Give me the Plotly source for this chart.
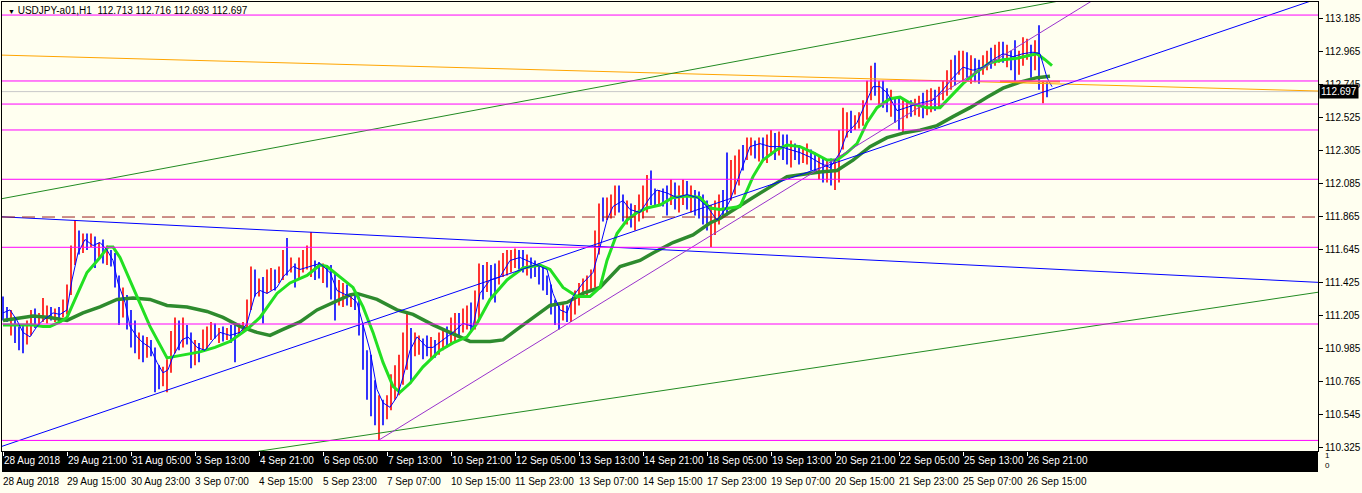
import plotly.graph_objects as go

# ---------------- data ----------------
# 2-hour price bars, hour index from 28 Aug 2018 13:00 (broker time)
bar_high = [
    111.33, 111.26, 111.24, 111.19, 111.13, 111.14, 111.17, 111.24, 111.25, 111.22,
    111.32, 111.27, 111.26, 111.25, 111.26, 111.31, 111.41, 111.67, 111.84, 111.77,
    111.75, 111.75, 111.75, 111.73, 111.69, 111.71, 111.67, 111.64, 111.62, 111.47,
    111.39, 111.34, 111.24, 111.17, 111.09, 111.07, 111.06, 111.04, 110.99, 110.87,
    110.86, 110.91, 111.10, 111.19, 111.17, 111.19, 111.14, 111.09, 111.04, 111.02,
    111.11, 111.13, 111.16, 111.15, 111.12, 111.13, 111.12, 111.14, 111.15, 111.15,
    111.16, 111.31, 111.53, 111.51, 111.45, 111.46, 111.51, 111.52, 111.51, 111.53,
    111.64, 111.72, 111.59, 111.55, 111.59, 111.64, 111.67, 111.76, 111.57, 111.56,
    111.55, 111.54, 111.54, 111.49, 111.44, 111.42, 111.41, 111.35, 111.35, 111.33,
    111.15, 110.97, 110.94, 110.77, 110.67, 110.64, 110.67, 110.81, 110.87, 110.94,
    111.09, 111.22, 111.12, 111.09, 111.07, 111.05, 111.07, 111.06, 111.04, 111.09,
    111.11, 111.13, 111.19, 111.22, 111.22, 111.25, 111.27, 111.29, 111.37, 111.55,
    111.54, 111.56, 111.54, 111.55, 111.57, 111.62, 111.64, 111.64, 111.65, 111.64,
    111.64, 111.61, 111.59, 111.57, 111.55, 111.54, 111.47, 111.41, 111.31, 111.27,
    111.29, 111.27, 111.31, 111.37, 111.42, 111.45, 111.47, 111.51, 111.77, 111.95,
    111.99, 111.99, 112.01, 112.07, 112.07, 112.01, 111.97, 111.95, 111.94, 112.01,
    112.07, 112.14, 112.17, 112.05, 112.04, 112.05, 112.07, 112.11, 112.09, 112.07,
    112.11, 112.10, 112.07, 112.04, 112.03, 112.01, 111.97, 111.94, 111.97, 112.01,
    112.04, 112.29, 112.24, 112.27, 112.31, 112.34, 112.39, 112.39, 112.37, 112.39,
    112.39, 112.41, 112.44, 112.42, 112.43, 112.41, 112.41, 112.37, 112.35, 112.34,
    112.32, 112.35, 112.31, 112.29, 112.27, 112.25, 112.24, 112.25, 112.24, 112.44,
    112.59, 112.56, 112.57, 112.54, 112.56, 112.64, 112.77, 112.87, 112.89, 112.77,
    112.77, 112.72, 112.71, 112.66, 112.65, 112.64, 112.64, 112.64, 112.65, 112.67,
    112.69, 112.71, 112.72, 112.71, 112.73, 112.77, 112.84, 112.91, 112.94, 112.97,
    112.97, 112.96, 112.94, 112.92, 112.91, 112.94, 112.97, 112.99, 113.01, 113.03,
    113.03, 113.01, 112.97, 113.04, 112.97, 113.06, 113.05, 113.01, 113.04, 113.14,
    112.77, 112.76,
]
bar_low = [
    111.17, 111.16, 111.07, 111.02, 110.97, 110.95, 111.01, 111.07, 111.12, 111.13,
    111.16, 111.15, 111.17, 111.16, 111.15, 111.19, 111.21, 111.34, 111.54, 111.61,
    111.62, 111.64, 111.66, 111.52, 111.59, 111.55, 111.54, 111.53, 111.39, 111.14,
    111.19, 111.11, 110.99, 110.95, 110.91, 110.89, 110.92, 110.93, 110.69, 110.71,
    110.73, 110.69, 110.82, 110.95, 110.97, 110.99, 111.01, 110.85, 110.87, 110.89,
    110.96, 110.97, 111.04, 111.05, 111.02, 111.03, 111.04, 111.02, 110.89, 111.07,
    111.09, 111.11, 111.24, 111.33, 111.33, 111.15, 111.35, 111.37, 111.37, 111.42,
    111.44, 111.47, 111.49, 111.39, 111.44, 111.49, 111.51, 111.46, 111.44, 111.45,
    111.42, 111.39, 111.31, 111.17, 111.27, 111.26, 111.27, 111.26, 111.24, 111.07,
    110.84, 110.64, 110.53, 110.47, 110.37, 110.47, 110.51, 110.57, 110.64, 110.67,
    110.74, 110.84, 110.75, 110.93, 110.94, 110.91, 110.93, 110.91, 110.92, 110.94,
    110.97, 110.99, 111.02, 111.02, 111.06, 111.09, 111.11, 111.09, 111.11, 111.17,
    111.31, 111.36, 111.32, 111.29, 111.41, 111.46, 111.47, 111.49, 111.52, 111.51,
    111.49, 111.47, 111.45, 111.46, 111.41, 111.37, 111.34, 111.21, 111.14, 111.11,
    111.17, 111.16, 111.16, 111.21, 111.27, 111.32, 111.34, 111.37, 111.39, 111.61,
    111.83, 111.84, 111.85, 111.87, 111.89, 111.83, 111.81, 111.79, 111.77, 111.83,
    111.85, 111.89, 111.94, 111.93, 111.94, 111.93, 111.87, 111.94, 111.91, 111.89,
    111.94, 111.91, 111.89, 111.87, 111.85, 111.81, 111.77, 111.66, 111.74, 111.81,
    111.86, 111.87, 111.97, 112.01, 112.07, 112.17, 112.24, 112.27, 112.25, 112.23,
    112.24, 112.22, 112.27, 112.24, 112.27, 112.24, 112.21, 112.19, 112.24, 112.21,
    112.22, 112.21, 112.17, 112.16, 112.11, 112.09, 112.09, 112.07, 112.04, 112.09,
    112.31, 112.39, 112.42, 112.44, 112.45, 112.47, 112.51, 112.64, 112.67, 112.61,
    112.59, 112.56, 112.53, 112.49, 112.44, 112.42, 112.52, 112.53, 112.54, 112.53,
    112.52, 112.54, 112.56, 112.57, 112.59, 112.64, 112.67, 112.71, 112.74, 112.81,
    112.77, 112.79, 112.75, 112.76, 112.75, 112.81, 112.84, 112.85, 112.87, 112.89,
    112.89, 112.86, 112.84, 112.75, 112.81, 112.87, 112.91, 112.79, 112.84, 112.71,
    112.62, 112.66,
]
# R = bullish bar, B = bearish bar
bar_dir = list(
    "BBRBBBRRBR" "RRBRBRRRRB" "RBRBRBRBBB" "RBBBRBRBBB" "RRRRBRBBRB"
    "RRRBRBRBBR" "RRRBRBRRBR" "RBRBRRRRBB" "RBBBRRBRBB" "BBBBRBRRRR"
    "RRBRRBBRBR" "RBRRBRRBRR" "BRBBRRRRRB" "BRBBBBBBBB" "RBRRRRRRRR"
    "BRRRBBRBRR" "RRBBRBBRBR" "RBRBBBBRRR" "BBRRRBRRBR" "BRRBRBBRBB"
    "RRBBRBRBRR" "RRBRRRRRBR" "BBRBBRRBRR" "BRRBRRRRBR" "RBRBBRRBRR"
    "BRBBRRRBRB" "RB"
)
bar_hour = [2 * j for j in range(len(bar_high))]

# fast moving average (thin blue)
fast_h = [0, 3.5, 7, 10, 13.5, 17, 20, 25, 28.5, 32, 34.5, 37.5, 41, 45, 48.5, 52, 55, 57.5,
          61, 63.5, 67, 70, 73.5, 77, 80, 82.5, 85, 89.5, 92.5, 97, 101, 105, 108.5, 113.5,
          118.5, 122, 126, 128.5, 132, 137, 140, 145, 148.5, 153.5, 158.5, 163.5, 167, 170,
          173.5, 177, 180, 183.5, 187, 190, 193.5, 197, 200, 203.5, 207, 212, 215, 220, 225,
          230, 235, 238.5, 243.5, 248.5, 253.5, 258.5, 265, 272, 275, 278.5, 282, 285, 290,
          295, 298.5, 302, 305, 310, 313.5, 318.5, 323.5, 327, 332, 337, 342, 347, 352, 357,
          361, 363.5, 368.5, 373.5, 378.5, 383.5, 388.5, 393.5, 398.5, 403.5, 408.5, 413.5,
          418.5, 422, 427, 432, 435, 438.5, 442, 447, 452, 458.5, 465, 470, 475, 480, 485,
          490, 495, 500, 505, 510, 515, 518.5, 522, 524.5]
fast_p = [111.22, 111.24, 111.17, 111.09, 111.06, 111.13, 111.17, 111.22, 111.21, 111.24,
          111.44, 111.62, 111.71, 111.67, 111.69, 111.64, 111.57, 111.42, 111.29, 111.13,
          111.06, 111.02, 110.99, 110.89, 110.82, 110.84, 110.93, 111.04, 111.06, 110.99,
          110.97, 111.04, 111.09, 111.07, 111.09, 111.15, 111.34, 111.37, 111.35, 111.39,
          111.46, 111.53, 111.51, 111.53, 111.55, 111.49, 111.37, 111.35, 111.33, 111.29,
          111.15, 110.97, 110.71, 110.62, 110.59, 110.66, 110.79, 110.97, 111.06, 110.99,
          110.99, 111.04, 111.09, 111.15, 111.13, 111.35, 111.44, 111.46, 111.57, 111.59,
          111.55, 111.51, 111.35, 111.24, 111.22, 111.33, 111.42, 111.49, 111.66, 111.84,
          111.93, 111.97, 111.91, 111.89, 111.99, 112.04, 112.02, 111.99, 112.01, 111.99,
          111.93, 111.84, 111.91, 111.97, 112.15, 112.33, 112.35, 112.33, 112.33, 112.31,
          112.29, 112.26, 112.22, 112.19, 112.29, 112.42, 112.49, 112.64, 112.73, 112.73,
          112.69, 112.57, 112.59, 112.62, 112.64, 112.71, 112.79, 112.86, 112.84, 112.86,
          112.91, 112.95, 112.93, 112.95, 112.96, 112.95, 112.79, 112.73]

# medium moving average (bright green)
mid_h = [0, 15, 20, 23.5, 28.5, 32, 37, 42, 48.5, 52.5, 55, 58.5, 65, 73.5, 82, 90, 98.5,
         106, 113.5, 122, 128.5, 137, 143.5, 152, 158.5, 162, 168.5, 175, 180, 185, 190, 195,
         198.5, 203.5, 210, 218.5, 225, 232, 237, 243.5, 252, 260, 268.5, 273.5, 280, 287,
         293.5, 298.5, 302, 307, 312, 317, 322, 328.5, 335, 342, 348.5, 353.5, 358.5, 368.5,
         375, 380, 387, 392, 398.5, 405, 412, 417, 422, 427, 432, 437, 443.5, 448.5, 453.5,
         462, 468.5, 473.5, 480, 487, 493.5, 500, 507, 513.5, 517, 521, 524.5]
mid_p = [111.14, 111.14, 111.13, 111.13, 111.16, 111.19, 111.34, 111.49, 111.59, 111.66,
         111.66, 111.59, 111.39, 111.13, 110.92, 110.94, 110.96, 110.99, 111.03, 111.11,
         111.19, 111.35, 111.42, 111.47, 111.54, 111.53, 111.46, 111.39, 111.26, 111.09,
         110.89, 110.73, 110.69, 110.75, 110.86, 110.97, 111.02, 111.06, 111.15, 111.31,
         111.44, 111.52, 111.54, 111.51, 111.39, 111.33, 111.33, 111.39, 111.57, 111.75,
         111.84, 111.89, 111.92, 111.94, 111.99, 112.00, 111.99, 111.92, 111.91, 111.93,
         112.13, 112.24, 112.31, 112.34, 112.33, 112.29, 112.24, 112.24, 112.29, 112.35,
         112.49, 112.59, 112.65, 112.66, 112.62, 112.59, 112.59, 112.66, 112.75, 112.83,
         112.89, 112.91, 112.92, 112.94, 112.95, 112.91, 112.87]

# slow moving average (dark green)
slow_h = [0, 8.5, 15, 23.5, 32, 40, 48.5, 57, 65, 73.5, 82, 92, 102, 110, 118.5, 127, 133.5,
          140, 148.5, 157, 165, 173.5, 177, 187, 197, 205, 215, 223.5, 233.5, 243.5, 250, 257,
          265, 273.5, 282, 290, 298.5, 308.5, 318.5, 325, 335, 345, 353.5, 358.5, 375, 392,
          408.5, 417, 425, 433.5, 442, 450, 458.5, 467, 475, 483.5, 492, 500, 508.5, 517, 523.5]
slow_p = [111.17, 111.19, 111.20, 111.19, 111.17, 111.22, 111.26, 111.31, 111.32, 111.31,
          111.27, 111.26, 111.23, 111.19, 111.13, 111.09, 111.07, 111.11, 111.16, 111.24,
          111.29, 111.34, 111.35, 111.31, 111.24, 111.21, 111.14, 111.09, 111.03, 111.03,
          111.04, 111.11, 111.19, 111.27, 111.29, 111.35, 111.39, 111.53, 111.57, 111.62,
          111.69, 111.74, 111.82, 111.85, 111.99, 112.13, 112.16, 112.17, 112.24, 112.33,
          112.39, 112.42, 112.44, 112.47, 112.53, 112.59, 112.66, 112.72, 112.76, 112.79,
          112.80]

# horizontal levels
magenta_levels = [113.208, 112.768, 112.614, 112.441, 112.112, 111.658, 111.146, 110.369]
dashed_levels = [111.860]
bid_levels = [112.697]

# trend lines: (start hour, start price, end hour, end price)
green_upper = [-1.5, 111.98, 657.5, 113.625]
green_lower = [-1.5, 110.038, 657.5, 111.358]
blue_down = [-1.5, 111.862, 657.5, 111.424]
blue_up = [-1.5, 110.325, 657.5, 113.318]
purple_up = [188, 110.372, 657.5, 114.232]
orange_line = [-1.5, 112.941, 657.5, 112.701]
orange_short = [498.5, 112.765, 528.5, 112.765]

# time axis labels
tick_hours = [0, 32, 64, 96, 128, 160, 192, 224, 256, 288, 320, 352, 384, 416, 448, 480, 512]
tick_top = ["28 Aug 2018", "29 Aug 21:00", "31 Aug 05:00", "3 Sep 13:00", "4 Sep 21:00",
            "6 Sep 05:00", "7 Sep 13:00", "10 Sep 21:00", "12 Sep 05:00", "13 Sep 13:00",
            "14 Sep 21:00", "18 Sep 05:00", "19 Sep 13:00", "20 Sep 21:00", "22 Sep 05:00",
            "25 Sep 13:00", "26 Sep 21:00"]
tick_bottom = ["28 Aug 2018", "29 Aug 15:00", "30 Aug 23:00", "3 Sep 07:00", "4 Sep 15:00",
               "5 Sep 23:00", "7 Sep 07:00", "10 Sep 15:00", "11 Sep 23:00", "13 Sep 07:00",
               "14 Sep 15:00", "17 Sep 23:00", "19 Sep 07:00", "20 Sep 15:00", "21 Sep 23:00",
               "25 Sep 07:00", "26 Sep 15:00"]
price_ticks = [110.325, 110.545, 110.765, 110.985, 111.205, 111.425, 111.645, 111.865,
               112.085, 112.305, 112.525, 112.745, 112.965, 113.185]
last_price = 112.697
header = "USDJPY-a01,H1\u00a0\u00a0112.713 112.716 112.693 112.697"

# ---------------- figure ----------------
BG = "#FFFFF0"
FONT = "Liberation Sans"
X_RANGE = [-0.5, 657.5]
Y_RANGE = [110.2984, 113.2951]

fig = go.Figure()


def bar_segments(kind):
    xs, ys = [], []
    for h, hi, lo, d in zip(bar_hour, bar_high, bar_low, bar_dir):
        if d == kind:
            xs += [h, h, None]
            ys += [lo, hi, None]
    return xs, ys


def add_line(x, y, color, width=1, dash="solid"):
    fig.add_trace(go.Scatter(x=x, y=y, mode="lines", hoverinfo="skip",
                             line=dict(color=color, width=width, dash=dash)))


def add_trend(seg, color, width=1):
    add_line([seg[0], seg[2]], [seg[1], seg[3]], color, width)


# bid line
for lv in bid_levels:
    add_line(X_RANGE, [lv, lv], "#C8C8C8", 1)

# price bars
for kind, col in (("R", "#FF0000"), ("B", "#0000FF")):
    xs, ys = bar_segments(kind)
    add_line(xs, ys, col, 1.6)

# moving averages
add_line(slow_h, slow_p, "#2E8B2E", 3.5)
add_line(mid_h, mid_p, "#22E022", 3)
add_line(fast_h, fast_p, "#0000FF", 1)

# trend lines
add_trend(orange_line, "#FFA500", 1)
add_trend(orange_short, "#FFA500", 2)
add_trend(green_upper, "#228B22", 1)
add_trend(green_lower, "#228B22", 1)
add_trend(blue_down, "#0000FF", 1)
add_trend(blue_up, "#0000FF", 1)
add_trend(purple_up, "#9932CC", 1)

# horizontal levels
for lv in magenta_levels:
    add_line(X_RANGE, [lv, lv], "#FF00FF", 1)
for lv in dashed_levels:
    add_line(X_RANGE, [lv, lv], "#9A2020", 1, "13px,7px")

# trace that carries the second (lower) time axis
fig.add_trace(go.Scatter(x=tick_hours, y=[None] * len(tick_hours), xaxis="x2",
                         mode="markers", showlegend=False, hoverinfo="skip"))

fig.update_layout(
    width=1362, height=493,
    margin=dict(l=2, r=44, t=2, b=42, autoexpand=False),
    paper_bgcolor=BG, plot_bgcolor=BG,
    showlegend=False,
    font=dict(family=FONT, size=10, color="black"),
    xaxis=dict(range=X_RANGE, tickvals=tick_hours, ticktext=tick_top, tickangle=0,
               automargin=False,
               ticks="outside", ticklen=4, tickcolor="white", tickwidth=1,
               tickfont=dict(family=FONT, size=10, color="white"),
               ticklabelposition="outside right",
               showgrid=False, zeroline=False, showline=True, linecolor="black",
               linewidth=1, mirror=True),
    xaxis2=dict(range=X_RANGE, overlaying="x", side="bottom", anchor="y",
                tickvals=tick_hours, ticktext=tick_bottom, tickangle=0, automargin=False,
                ticks="", tickfont=dict(family=FONT, size=10, color="black"),
                ticklabelposition="outside right", ticklabelstandoff=23,
                showgrid=False, zeroline=False, showline=False),
    yaxis=dict(range=Y_RANGE, side="right", tickvals=price_ticks, automargin=False,
               ticktext=[f"{v:.3f}" for v in price_ticks],
               ticks="outside", ticklen=4, tickcolor="black",
               tickfont=dict(family=FONT, size=10, color="black"),
               showgrid=False, zeroline=False, showline=True, linecolor="black",
               linewidth=1, mirror=True),
    shapes=[dict(type="rect", xref="paper", yref="paper", x0=0, x1=1,
                 y0=-0.0468, y1=-0.0022, fillcolor="black", line=dict(width=0),
                 layer="below")],
    annotations=[
        dict(xref="paper", yref="y", x=1, y=last_price, xanchor="left", yanchor="middle",
             text=f"{last_price:.3f}", showarrow=False, bgcolor="black",
             font=dict(family=FONT, size=10, color="white"), borderpad=1, xshift=1),
        dict(xref="paper", yref="paper", x=0.003, y=1, xanchor="left", yanchor="top",
             text="<span style='font-size:7px'>\u25bc</span>\u00a0" + header,
             showarrow=False, font=dict(family=FONT, size=10, color="black"), yshift=-1),
        dict(xref="paper", yref="paper", x=1.0035, y=-0.022, xanchor="left",
             yanchor="middle", text="1<br>0", showarrow=False,
             font=dict(family=FONT, size=8, color="black")),
    ],
)

fig.write_html("out.html",
               config={"displayModeBar": False},
               post_script="document.body.style.margin='0';"
                           "document.body.style.background='" + BG + "';")
